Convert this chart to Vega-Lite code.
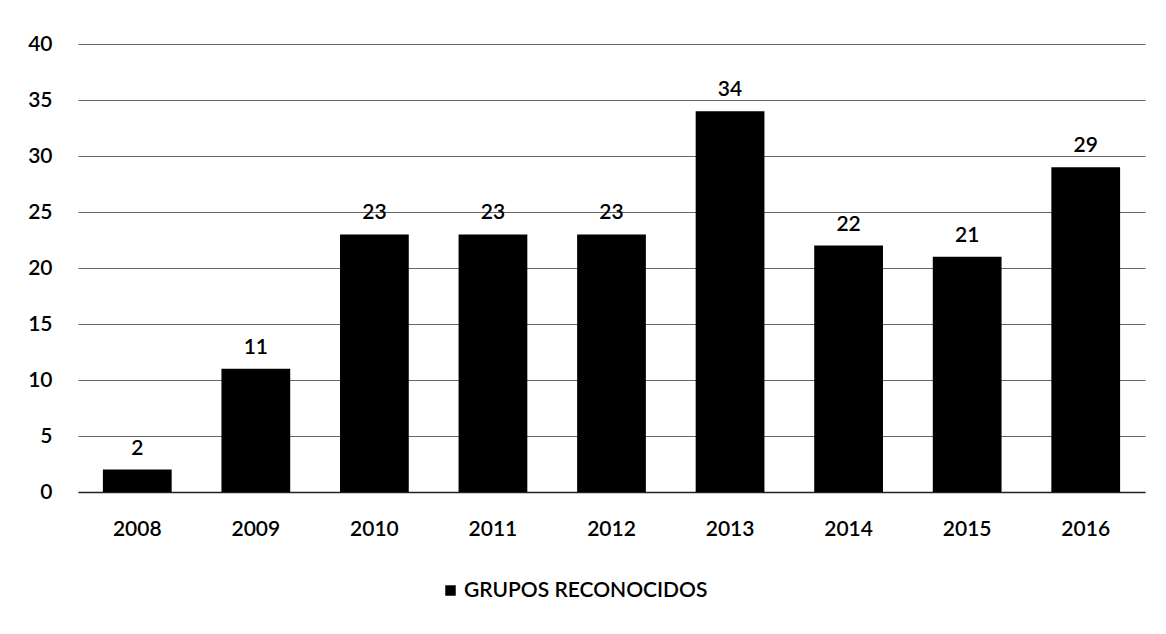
{
  "$schema": "https://vega.github.io/schema/vega-lite/v6.json",
  "autosize": "none",
  "width": 1067,
  "height": 448,
  "padding": {"left": 78, "top": 44, "right": 21, "bottom": 142},
  "background": "white",
  "config": {
    "view": {"stroke": null},
    "font": "Lato",
    "axis": {"labelFont": "Lato", "labelFontSize": 21, "labelColor": "black", "labelFontWeight": 600}
  },
  "data": {
    "values": [
      {"year": "2008", "value": 2, "serie": "GRUPOS RECONOCIDOS"},
      {"year": "2009", "value": 11, "serie": "GRUPOS RECONOCIDOS"},
      {"year": "2010", "value": 23, "serie": "GRUPOS RECONOCIDOS"},
      {"year": "2011", "value": 23, "serie": "GRUPOS RECONOCIDOS"},
      {"year": "2012", "value": 23, "serie": "GRUPOS RECONOCIDOS"},
      {"year": "2013", "value": 34, "serie": "GRUPOS RECONOCIDOS"},
      {"year": "2014", "value": 22, "serie": "GRUPOS RECONOCIDOS"},
      {"year": "2015", "value": 21, "serie": "GRUPOS RECONOCIDOS"},
      {"year": "2016", "value": 29, "serie": "GRUPOS RECONOCIDOS"}
    ]
  },
  "encoding": {
    "x": {
      "field": "year", "type": "nominal", "title": null,
      "scale": {"paddingInner": 0.42, "paddingOuter": 0.21},
      "axis": {"labelAngle": 0, "ticks": false, "domain": true, "domainColor": "#222", "domainWidth": 1.5, "labelPadding": 26}
    },
    "y": {
      "field": "value", "type": "quantitative", "title": null,
      "scale": {"domain": [0, 40]},
      "axis": {"values": [0, 5, 10, 15, 20, 25, 30, 35, 40], "ticks": false, "domain": false, "grid": true, "gridColor": "#666", "gridWidth": 1, "labelPadding": 26}
    }
  },
  "layer": [
    {
      "mark": {"type": "bar", "color": "black"},
      "encoding": {
        "color": {
          "field": "serie", "type": "nominal",
          "scale": {"range": ["black"]},
          "legend": {
            "title": null, "orient": "none", "legendX": 362, "legendY": 536,
            "symbolType": "square", "symbolSize": 110, "labelFont": "Lato",
            "labelFontSize": 21, "labelFontWeight": 600, "labelColor": "black", "labelLimit": 0, "labelOffset": 3
          }
        }
      }
    },
    {
      "mark": {"type": "text", "baseline": "bottom", "dy": -11, "fontSize": 21, "fontWeight": 600, "font": "Lato", "color": "black"},
      "encoding": {"text": {"field": "value", "type": "quantitative"}}
    }
  ]
}
